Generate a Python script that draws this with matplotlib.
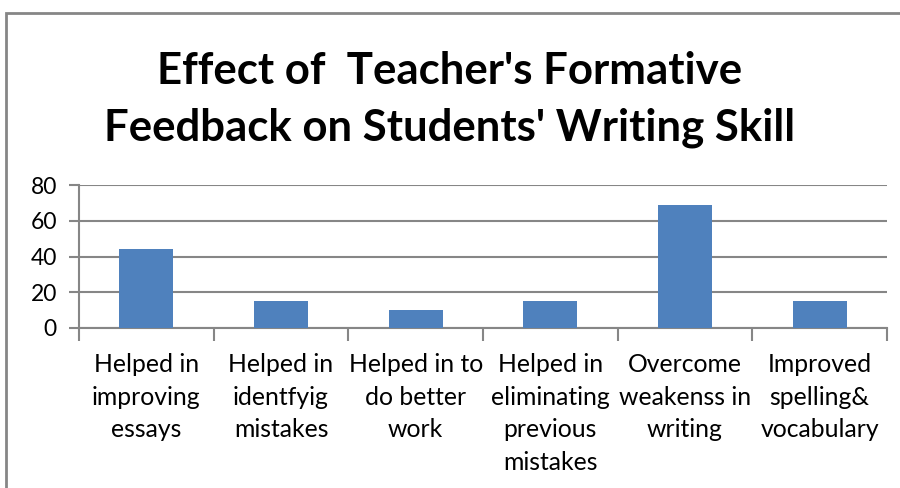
import matplotlib
matplotlib.use('Agg')
import matplotlib.pyplot as plt
from matplotlib.patches import Rectangle

categories = ['Helped in\nimproving\nessays', 'Helped in\nidentfyig\nmistakes', 'Helped in to\ndo better\nwork',
              'Helped in\neliminating\nprevious\nmistakes', 'Overcome\nweakenss in\nwriting', 'Improved\nspelling&\nvocabulary']
values = [44, 15, 10, 15, 69, 15]
yticks = [0, 20, 40, 60, 80]

plt.rcParams['font.family'] = ['Lato', 'DejaVu Sans']

fig = plt.figure(figsize=(9, 4.88), dpi=100)
fig.patches.append(Rectangle((6 / 900, -0.1), 1.2, (488 - 13) / 488 + 0.1, transform=fig.transFigure,
                             fill=False, edgecolor='#868686', linewidth=2))

ax = fig.add_axes([79 / 900, 1 - 328 / 488, (887 - 79) / 900, (328 - 185) / 488])
x = range(len(values))
ax.bar(x, values, width=0.4, color='#4F81BD', zorder=3)
ax.set_xlim(-0.5, len(values) - 0.5)
ax.set_ylim(0, 80)
ax.set_yticks(yticks)
ax.set_yticklabels([str(v) for v in yticks], fontsize=16.5)
ax.yaxis.grid(True, color='#868686', linewidth=1.5, zorder=0)
ax.tick_params(axis='y', length=7, width=1.5, color='#868686', pad=9)

ax.set_xticks([i - 0.5 for i in range(len(values) + 1)], minor=False)
ax.set_xticklabels([])
ax.tick_params(axis='x', length=9, width=1.5, color='#868686')
for i, lab in enumerate(categories):
    ax.text(i, -0.175, lab, transform=ax.get_xaxis_transform(), ha='center', va='top',
            fontsize=17.8, linespacing=1.5)

for s in ['top', 'right']:
    ax.spines[s].set_visible(False)
for s in ['left', 'bottom']:
    ax.spines[s].set_color('#868686')
    ax.spines[s].set_linewidth(1.5)

fig.text(0.5, 1 - 71 / 488, "Effect of  Teacher's Formative", ha='center', va='center',
         fontsize=31.5, fontweight='bold')
fig.text(0.5, 1 - 128 / 488, "Feedback on Students' Writing Skill", ha='center', va='center',
         fontsize=31.5, fontweight='bold')

fig.savefig('out.png', dpi=100)
